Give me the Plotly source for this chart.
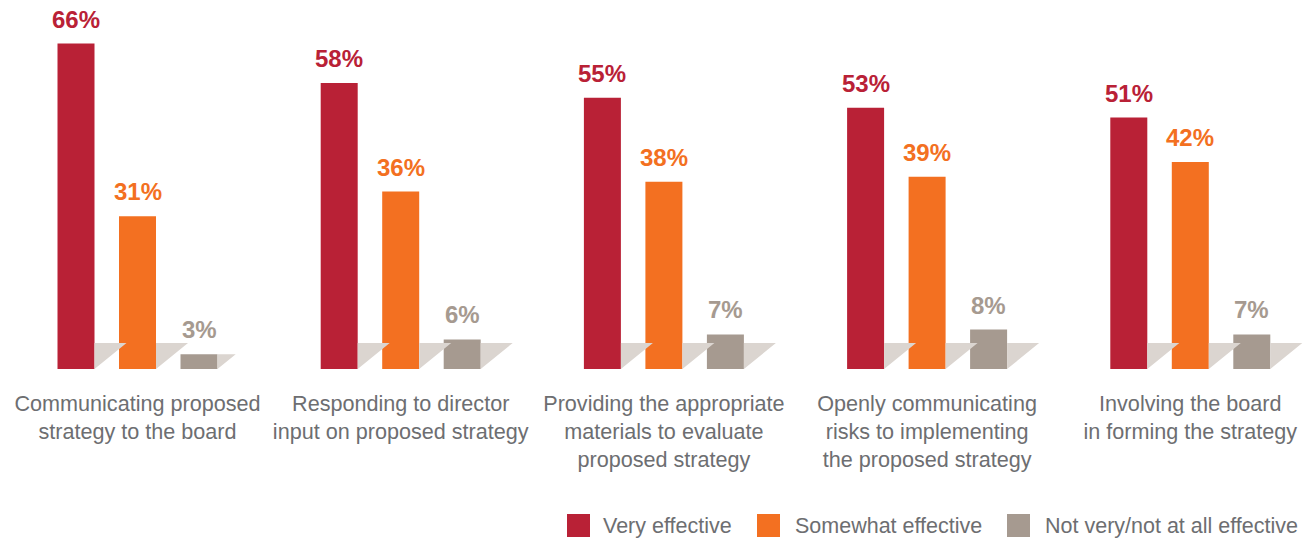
import numpy as np
import plotly.graph_objects as go

# ---------------- data ----------------
categories = [
    "Communicating proposed<br>strategy to the board",
    "Responding to director<br>input on proposed strategy",
    "Providing the appropriate<br>materials to evaluate<br>proposed strategy",
    "Openly communicating<br>risks to implementing<br>the proposed strategy",
    "Involving the board<br>in forming the strategy",
]
series_names = ["Very effective", "Somewhat effective", "Not very/not at all effective"]
very_effective = [66, 58, 55, 53, 51]
somewhat_effective = [31, 36, 38, 39, 42]
not_effective = [3, 6, 7, 8, 7]

# ---------------- style ----------------
colors = ["#b92136", "#f37021", "#a69a90"]
shadow_color = "#dbd5d0"
text_color = "#6d6e71"
FONT = "Liberation Sans, Arial, Helvetica, sans-serif"

W, H = 1303, 538
MT, MB = 0, 169
plot_h = H - MT - MB
px_per_unit_y = 4.93
ymax = plot_h / px_per_unit_y

group_step_px = 263.2
first_center_px = 137.5
x_range = [-first_center_px / group_step_px, (W - first_center_px) / group_step_px]
bar_offset = 61.5 / group_step_px
bar_width = 37 / group_step_px
shadow_h = 26 / px_per_unit_y          # shadow height in data units
shadow_w = 32 / group_step_px          # shadow width in x units at full height

series = [very_effective, somewhat_effective, not_effective]
offsets = [-bar_offset, 0.0, bar_offset]
idx = np.arange(len(categories))

fig = go.Figure()

# shadows (drawn first, behind the bars)
for vals, off in zip(series, offsets):
    xs, ys = [], []
    for i, v in zip(idx, vals):
        xr = i + off + bar_width / 2
        h = min(v, shadow_h)
        w = shadow_w * h / shadow_h
        xs += [xr, xr, xr + w, xr, None]
        ys += [0, h, h, 0, None]
    fig.add_trace(go.Scatter(
        x=xs, y=ys, mode="lines", fill="toself", fillcolor=shadow_color,
        line=dict(width=0, color=shadow_color), hoverinfo="skip", showlegend=False,
    ))

# bars
for name, vals, off, col in zip(series_names, series, offsets, colors):
    fig.add_trace(go.Bar(
        x=idx + off, y=vals, width=bar_width, name=name,
        marker=dict(color=col, line=dict(width=0)), showlegend=False,
    ))

annotations = []
# value labels
for vals, off, col in zip(series, offsets, colors):
    for i, v in zip(idx, vals):
        annotations.append(dict(
            x=i + off, y=v, xref="x", yref="y", text=f"{v}%", showarrow=False,
            yanchor="bottom", yshift=9,
            font=dict(family=FONT, size=24, color=col, weight="bold"),
        ))

# custom legend (bottom right)
legend_sq = [567, 757, 1007]
legend_txt = [601, 793, 1043]
sq_top, sq_bot = 514, 537
to_py = lambda p: (plot_h + MT - p) / plot_h
shapes = []
for name, col, sx, tx in zip(series_names, colors, legend_sq, legend_txt):
    shapes.append(dict(
        type="rect", xref="paper", yref="paper",
        x0=sx / W, x1=(sx + 23) / W, y0=to_py(sq_bot), y1=to_py(sq_top),
        fillcolor=col, line=dict(width=0),
    ))
    annotations.append(dict(
        x=tx / W, y=to_py((sq_top + sq_bot) / 2), xref="paper", yref="paper",
        text=name, showarrow=False, xanchor="left", yanchor="middle",
        font=dict(family=FONT, size=21.5, color=text_color),
    ))

fig.update_layout(
    width=W, height=H,
    margin=dict(l=0, r=0, t=MT, b=MB),
    paper_bgcolor="white", plot_bgcolor="white",
    barmode="overlay",
    showlegend=False,
    annotations=annotations, shapes=shapes,
    xaxis=dict(
        range=x_range, tickmode="array", tickvals=idx, ticktext=categories,
        showgrid=False, zeroline=False, showline=False,
        ticks="outside", ticklen=15, tickcolor="rgba(0,0,0,0)",
        tickfont=dict(family=FONT, size=21.6, color=text_color),
    ),
    yaxis=dict(
        range=[0, ymax], visible=False, showgrid=False, zeroline=False,
    ),
)

fig.write_html(
    "out.html",
    config={"displayModeBar": False},
    post_script="document.body.style.margin='0';document.body.style.overflow='hidden';",
)
